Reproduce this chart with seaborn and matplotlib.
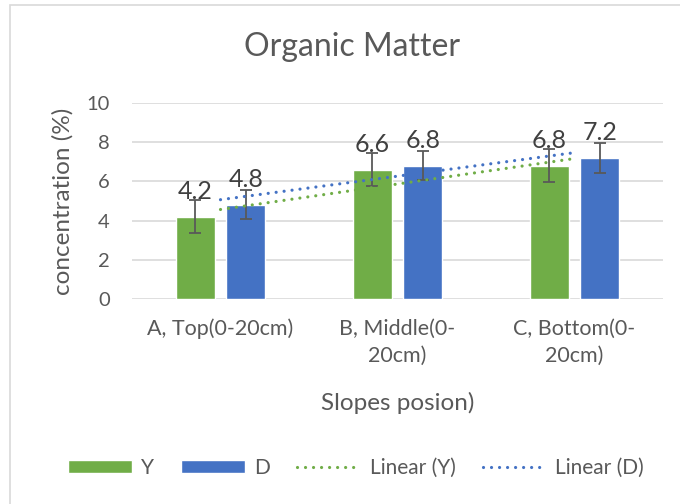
import numpy as np
import pandas as pd
import seaborn as sns
import matplotlib.pyplot as plt
from matplotlib.patches import Rectangle, Patch
from matplotlib.lines import Line2D

# data
positions = ['A, Top(0-20cm)', 'B, Middle(0-\n20cm)', 'C, Bottom(0-\n20cm)']
y_vals = [4.2, 6.6, 6.8]
d_vals = [4.8, 6.8, 7.2]
y_err = [0.85, 0.83, 0.83]
d_err = [0.74, 0.74, 0.75]

green = '#70AD47'
blue = '#4472C4'
txt = '#595959'

df = pd.DataFrame({
	'pos': positions * 2,
	'val': y_vals + d_vals,
	'series': ['Y'] * 3 + ['D'] * 3,
	})

sns.set_theme(style='white')
plt.rcParams['font.family'] = ['Lato', 'DejaVu Sans']

fig = plt.figure(figsize=(6.8, 5.04), dpi=100)
ax = fig.add_axes([132 / 680, 1 - 299 / 504, 531 / 680, 196 / 504])

# chart border
fig.patches.append(Rectangle((10 / 680, -0.1), 1.2, 1.1 - 5 / 504,
	transform=fig.transFigure, fill=False, edgecolor='#D9D9D9', lw=1.2))

sns.barplot(data=df, x='pos', y='val', hue='series',
	palette=[green, blue], width=0.57, gap=0.22,
	legend=False, ax=ax, saturation=1)

# error bars and data labels
errs = y_err + d_err
for p, e in zip(ax.patches, errs):
	cx = p.get_x() + p.get_width() / 2
	h = p.get_height()
	ax.errorbar(cx, h, yerr=e, color='#595959', capsize=4.5, lw=1.3, capthick=1.3)
	ax.annotate(f'{h:.1f}', (cx, h), xytext=(0, 13), textcoords='offset points',
		ha='center', va='baseline', fontsize=18, color='#404040')

# linear trendlines
xs = np.arange(len(positions))
for vals, col in [(y_vals, green), (d_vals, blue)]:
	sns.regplot(x=xs, y=vals, scatter=False, ci=None, truncate=True, ax=ax,
		line_kws=dict(color=col, lw=2.3, ls=(0, (0.01, 2.5)),
		dash_capstyle='round'))

ax.set_xlim(-0.5, 2.5)
ax.set_ylim(0, 10)
ax.set_yticks([0, 2, 4, 6, 8, 10])
ax.yaxis.grid(True, color='#D9D9D9', lw=1.2)
ax.set_axisbelow(True)
sns.despine(ax=ax, left=True, bottom=True, top=True, right=True)
ax.tick_params(axis='x', length=0, labelsize=15.5, colors=txt, pad=14)
ax.tick_params(axis='y', length=0, labelsize=14.5, colors=txt, pad=16)
ax.set_xticks(xs)
ax.set_xticklabels(positions, linespacing=1.45)
ax.set_xlabel('Slopes posion)', fontsize=17.5, color=txt, labelpad=19)
ax.set_ylabel('concentration (%)', fontsize=17.5, color=txt, labelpad=9)

fig.text(352 / 680, 1 - 47 / 504, 'Organic Matter', ha='center', va='center',
	fontsize=23, color=txt)

dots = (0, (0.01, 2.5))
handles = [
	Patch(facecolor=green, label='Y'),
	Patch(facecolor=blue, label='D'),
	Line2D([], [], color=green, lw=2.3, ls=dots, dash_capstyle='round', label='Linear (Y)'),
	Line2D([], [], color=blue, lw=2.3, ls=dots, dash_capstyle='round', label='Linear (D)'),
	]
leg = fig.legend(handles=handles, loc='center', bbox_to_anchor=(356 / 680, 1 - 468 / 504),
	ncol=4, frameon=False, fontsize=15, handlelength=3.1, handleheight=0.63,
	columnspacing=1.3, handletextpad=0.4)
for t in leg.get_texts():
	t.set_color(txt)

plt.savefig('out.png', dpi=100)
